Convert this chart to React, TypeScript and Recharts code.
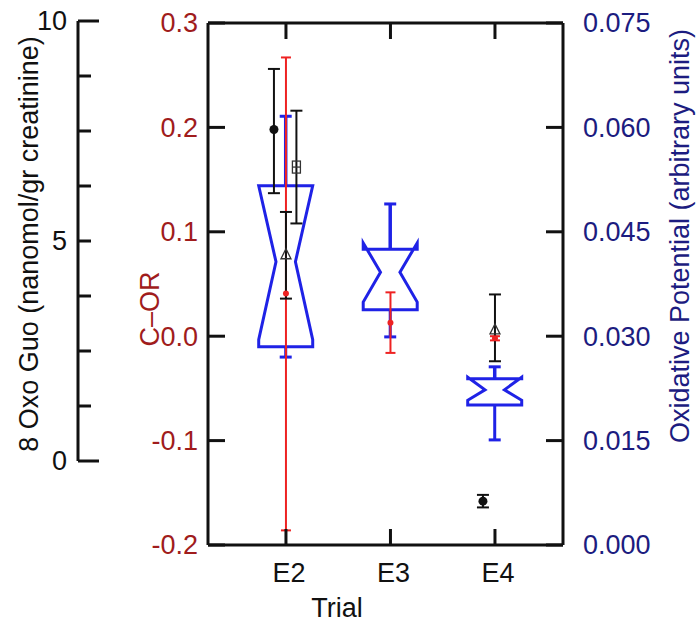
import React from 'react';
import { ComposedChart, Bar, Scatter, ErrorBar, XAxis, YAxis } from 'recharts';

const trials = ['E2', 'E3', 'E4'];

// Oxidative potential, notched boxes (right axis)
const opWhiskerLow = [0.0270, 0.0299, 0.0151];
const opQ1 = [0.0285, 0.0338, 0.0201];
const opNotchLow = [0.0295, 0.0349, 0.0208];
const opMedian = [0.0407, 0.0392, 0.0223];
const opNotchHigh = [0.0516, 0.0434, 0.0241];
const opQ3 = [0.0516, 0.0425, 0.0239];
const opWhiskerHigh = [0.0616, 0.0490, 0.0256];

// C-OR, red points with range
const corMean = [0.041, 0.013, -0.002];
const corLow = [-0.186, -0.016, -0.004];
const corHigh = [0.267, 0.042, 0.000];

// black markers (C-OR scale)
const dotTrials = ['E2', 'E4'];
const dotMean = [0.198, -0.158];
const dotLow = [0.137, -0.164];
const dotHigh = [0.256, -0.152];

const squareTrials = ['E2'];
const squareMean = [0.162];
const squareLow = [0.108];
const squareHigh = [0.216];

const triTrials = ['E2', 'E4'];
const triMean = [0.078, 0.006];
const triLow = [0.036, -0.024];
const triHigh = [0.119, 0.040];

const corTicks = [-0.2, -0.1, 0, 0.1, 0.2, 0.3];
const opTicks = [0, 0.015, 0.03, 0.045, 0.06, 0.075];
const oxoTicks = [0, 1.25, 2.5, 3.75, 5, 6.25, 7.5, 8.75, 10];
const oxoLabelled = [0, 5, 10];

const INK = '#111';
const COR_COLOR = '#a01c1c';
const OP_COLOR = '#1c1c80';
const BOX_BLUE = '#1f22e6';
const RED = '#ee2222';
const FONT = 27;
const TITLE_FONT = 27;

const trialX = (t: string) => Number(t.slice(1));
const trialName = (v: number) => trials.find((t) => trialX(t) === v) ?? '';
const trialNums = trials.map(trialX);

const X_DOMAIN: [number, number] = [1.254, 4.651];
const shifted = (d: number): [number, number] => [X_DOMAIN[0] - d, X_DOMAIN[1] - d];
const DOT_DODGE = -0.115;
const SQUARE_DODGE = 0.1;

const boxData = trials.map((t, i) => ({
  x: trialX(t),
  range: [opWhiskerLow[i], opWhiskerHigh[i]],
  q1: opQ1[i],
  q3: opQ3[i],
  median: opMedian[i],
  notchLow: opNotchLow[i],
  notchHigh: opNotchHigh[i],
}));

const withErr = (names: string[], mean: number[], low: number[], high: number[]) =>
  names.map((t, i) => ({ x: trialX(t), y: mean[i], err: [mean[i] - low[i], high[i] - mean[i]] }));

const redData = withErr(trials, corMean, corLow, corHigh);
const dotData = withErr(dotTrials, dotMean, dotLow, dotHigh);
const squareData = withErr(squareTrials, squareMean, squareLow, squareHigh);
const triData = withErr(triTrials, triMean, triLow, triHigh);

const NotchedBox = (props: any) => {
  const { x, y, width, height, payload } = props;
  const [lo, hi] = payload.range;
  const yHi = y;
  const yLo = y + height;
  const toY = (v: number) => yLo + ((v - lo) / (hi - lo)) * (yHi - yLo);
  const L = x;
  const R = x + width;
  const cx = x + width / 2;
  const inset = width * 0.32;
  const q1 = toY(payload.q1);
  const q3 = toY(payload.q3);
  const m = toY(payload.median);
  const nl = toY(payload.notchLow);
  const nh = toY(payload.notchHigh);
  const d = `M${L},${q1} H${R} V${nl} L${R - inset},${m} L${R},${nh} V${q3} H${L} V${nh} L${L + inset},${m} L${L},${nl} Z`;
  return (
    <g stroke={BOX_BLUE} strokeWidth={3} fill="none">
      <line x1={cx} x2={cx} y1={yHi} y2={q3} strokeWidth={3.5} />
      <line x1={cx - 6} x2={cx + 6} y1={yHi} y2={yHi} />
      <line x1={cx} x2={cx} y1={q1} y2={yLo} />
      <line x1={cx - 6} x2={cx + 6} y1={yLo} y2={yLo} />
      <path d={d} strokeLinejoin="miter" />
    </g>
  );
};

const RedDot = ({ cx, cy }: any) => <circle cx={cx} cy={cy} r={3} fill={RED} />;
const BlackDot = ({ cx, cy }: any) => <circle cx={cx} cy={cy} r={4.5} fill={INK} />;
const OpenSquare = ({ cx, cy }: any) => (
  <g stroke="#333" strokeWidth={1.3} fill="none">
    <rect x={cx - 4} y={cy - 6} width={8} height={12} />
    <line x1={cx - 4} x2={cx + 4} y1={cy} y2={cy} />
  </g>
);
const OpenTriangle = ({ cx, cy }: any) => (
  <path d={`M${cx},${cy - 6} L${cx - 5},${cy + 4} L${cx + 5},${cy + 4} Z`} stroke="#333" strokeWidth={1.3} fill="none" />
);

const OxoTick = ({ x, y, payload }: any) => {
  const major = oxoLabelled.includes(payload.value);
  const len = payload.value === 0 || payload.value === 10 ? 21 : 13;
  return (
    <g>
      <line x1={x} x2={x + len} y1={y} y2={y} stroke={INK} strokeWidth={3} />
      {major && (
        <text x={x - 11} y={y} dy="0.35em" textAnchor="end" fill={INK} fontSize={FONT}>
          {payload.value}
        </text>
      )}
    </g>
  );
};

const CorTick = ({ x, y, payload }: any) => (
  <g>
    <line x1={x} x2={x + 17} y1={y} y2={y} stroke={INK} strokeWidth={3} />
    <text x={x - 10} y={y} dy="0.35em" textAnchor="end" fill={COR_COLOR} fontSize={FONT}>
      {payload.value.toFixed(1)}
    </text>
  </g>
);

const OpTick = ({ x, y, payload }: any) => (
  <g>
    <line x1={x} x2={x - 17} y1={y} y2={y} stroke={INK} strokeWidth={3} />
    <text x={x + 20} y={y} dy="0.35em" textAnchor="start" fill={OP_COLOR} fontSize={FONT}>
      {payload.value.toFixed(3)}
    </text>
  </g>
);

const TrialTick = ({ x, y, payload }: any) => (
  <g>
    <line x1={x} x2={x} y1={y} y2={y - 16} stroke={INK} strokeWidth={3} />
    <text x={x + 3} y={y + 37} textAnchor="middle" fill={INK} fontSize={FONT}>
      {trialName(payload.value)}
    </text>
  </g>
);

const TopTick = ({ x, y }: any) => <line x1={x} x2={x} y1={y} y2={y + 16} stroke={INK} strokeWidth={3} />;

const frame = { stroke: INK, strokeWidth: 3 };

const RotatedTitle = ({ x, y, color, children }: any) => (
  <text x={x} y={y} transform={`rotate(-90, ${x}, ${y})`} textAnchor="middle" dy="0.35em" fill={color} fontSize={TITLE_FONT}>
    {children}
  </text>
);

export default function App() {
  return (
    <div style={{ position: 'absolute', left: 0, top: 0, width: 697, height: 623, background: '#fff', fontFamily: '"Liberation Sans", Arial, sans-serif' }}>
      <div style={{ position: 'absolute', left: 0, top: 0 }}>
        <ComposedChart width={697} height={623} data={boxData} margin={{ top: 21, right: 500, bottom: 162, left: 0 }}>
          <XAxis type="number" dataKey="x" domain={X_DOMAIN} allowDataOverflow hide height={0} />
          <YAxis
            type="number"
            domain={[0, 10]}
            allowDataOverflow
            ticks={oxoTicks}
            interval={0}
            width={78}
            tickSize={0}
            tickMargin={0}
            tickLine={false}
            axisLine={frame}
            tick={<OxoTick />}
            label={({ viewBox }: any) => (
              <RotatedTitle x={viewBox.x + 29} y={viewBox.y + viewBox.height / 2 + 3} color={INK}>
                8 Oxo Guo (nanomol/gr creatinine)
              </RotatedTitle>
            )}
          />
        </ComposedChart>
      </div>
      <div style={{ position: 'absolute', left: 0, top: 0 }}>
        <ComposedChart width={697} height={623} data={boxData} margin={{ top: 22, right: 0, bottom: 28, left: 148 }}>
          <XAxis
            xAxisId="main"
            type="number"
            dataKey="x"
            domain={X_DOMAIN}
            allowDataOverflow
            ticks={trialNums}
            interval={0}
            height={50}
            tickSize={0}
            tickMargin={0}
            tickLine={false}
            axisLine={frame}
            tick={<TrialTick />}
            label={({ viewBox }: any) => (
              <text x={viewBox.x + 129} y={viewBox.y + 72} textAnchor="middle" fill={INK} fontSize={TITLE_FONT}>
                Trial
              </text>
            )}
          />
          <XAxis
            xAxisId="top"
            orientation="top"
            type="number"
            dataKey="x"
            domain={X_DOMAIN}
            allowDataOverflow
            ticks={trialNums}
            interval={0}
            height={1}
            tickSize={0}
            tickMargin={0}
            tickLine={false}
            axisLine={frame}
            tick={<TopTick />}
          />
          <XAxis xAxisId="dot" type="number" dataKey="x" domain={shifted(DOT_DODGE)} allowDataOverflow hide height={0} />
          <XAxis xAxisId="square" type="number" dataKey="x" domain={shifted(SQUARE_DODGE)} allowDataOverflow hide height={0} />
          <YAxis
            yAxisId="cor"
            type="number"
            domain={[-0.2, 0.3]}
            allowDataOverflow
            ticks={corTicks}
            interval={0}
            width={60}
            tickSize={0}
            tickMargin={0}
            tickLine={false}
            axisLine={frame}
            tick={<CorTick />}
            label={({ viewBox }: any) => (
              <RotatedTitle x={viewBox.x + 2} y={viewBox.y + 286} color={COR_COLOR}>
                C–OR
              </RotatedTitle>
            )}
          />
          <YAxis
            yAxisId="op"
            orientation="right"
            type="number"
            domain={[0, 0.075]}
            allowDataOverflow
            ticks={opTicks}
            interval={0}
            width={134}
            tickSize={0}
            tickMargin={0}
            tickLine={false}
            axisLine={frame}
            tick={<OpTick />}
            label={({ viewBox }: any) => (
              <RotatedTitle x={viewBox.x + 117} y={viewBox.y + 213} color={OP_COLOR}>
                Oxidative Potential (arbitrary units)
              </RotatedTitle>
            )}
          />
          <Bar xAxisId="main" yAxisId="op" dataKey="range" barSize={54} shape={<NotchedBox />} isAnimationActive={false} />
          <Scatter xAxisId="main" yAxisId="cor" data={redData} dataKey="y" shape={<RedDot />} isAnimationActive={false}>
            <ErrorBar dataKey="err" direction="y" width={5} stroke={RED} strokeWidth={2} />
          </Scatter>
          <Scatter xAxisId="dot" yAxisId="cor" data={dotData} dataKey="y" shape={<BlackDot />} isAnimationActive={false}>
            <ErrorBar dataKey="err" direction="y" width={6} stroke={INK} strokeWidth={2} />
          </Scatter>
          <Scatter xAxisId="square" yAxisId="cor" data={squareData} dataKey="y" shape={<OpenSquare />} isAnimationActive={false}>
            <ErrorBar dataKey="err" direction="y" width={6} stroke={INK} strokeWidth={2} />
          </Scatter>
          <Scatter xAxisId="main" yAxisId="cor" data={triData} dataKey="y" shape={<OpenTriangle />} isAnimationActive={false}>
            <ErrorBar dataKey="err" direction="y" width={6} stroke={INK} strokeWidth={2} />
          </Scatter>
        </ComposedChart>
      </div>
    </div>
  );
}
